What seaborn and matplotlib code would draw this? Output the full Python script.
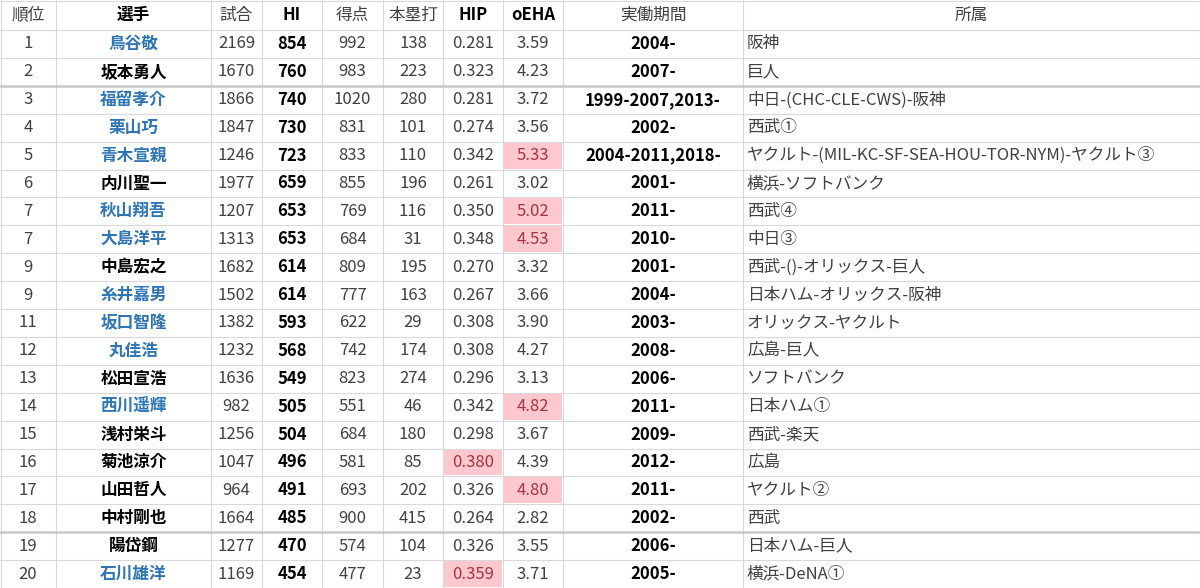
import matplotlib
matplotlib.use("Agg")
import matplotlib.pyplot as plt
import seaborn as sns
from matplotlib.patches import Rectangle

sns.set_theme(style="white")
plt.rcParams["font.family"] = "Noto Sans CJK JP"

headers = ["順位", "選手", "試合", "HI", "得点", "本塁打", "HIP", "oEHA", "実働期間", "所属"]
header_bold = [False, True, False, True, False, False, True, True, False, False]
ranks = [1, 2, 3, 4, 5, 6, 7, 7, 9, 9, 11, 12, 13, 14, 15, 16, 17, 18, 19, 20]
players = ["鳥谷敬", "坂本勇人", "福留孝介", "栗山巧", "青木宣親", "内川聖一", "秋山翔吾", "大島洋平",
           "中島宏之", "糸井嘉男", "坂口智隆", "丸佳浩", "松田宣浩", "西川遥輝", "浅村栄斗", "菊池涼介",
           "山田哲人", "中村剛也", "陽岱鋼", "石川雄洋"]
lefty = [1, 0, 1, 1, 1, 0, 1, 1, 0, 1, 1, 1, 0, 1, 0, 0, 0, 0, 0, 1]
games = [2169, 1670, 1866, 1847, 1246, 1977, 1207, 1313, 1682, 1502, 1382, 1232, 1636, 982, 1256, 1047, 964, 1664, 1277, 1169]
hi = [854, 760, 740, 730, 723, 659, 653, 653, 614, 614, 593, 568, 549, 505, 504, 496, 491, 485, 470, 454]
runs = [992, 983, 1020, 831, 833, 855, 769, 684, 809, 777, 622, 742, 823, 551, 684, 581, 693, 900, 574, 477]
hr = [138, 223, 280, 101, 110, 196, 116, 31, 195, 163, 29, 174, 274, 46, 180, 85, 202, 415, 104, 23]
hip = ["0.281", "0.323", "0.281", "0.274", "0.342", "0.261", "0.350", "0.348", "0.270", "0.267",
       "0.308", "0.308", "0.296", "0.342", "0.298", "0.380", "0.326", "0.264", "0.326", "0.359"]
oeha = ["3.59", "4.23", "3.72", "3.56", "5.33", "3.02", "5.02", "4.53", "3.32", "3.66",
        "3.90", "4.27", "3.13", "4.82", "3.67", "4.39", "4.80", "2.82", "3.55", "3.71"]
years = ["2004-", "2007-", "1999-2007,2013-", "2002-", "2004-2011,2018-", "2001-", "2011-", "2010-",
         "2001-", "2004-", "2003-", "2008-", "2006-", "2011-", "2009-", "2012-", "2011-", "2002-", "2006-", "2005-"]
teams = ["阪神", "巨人", "中日-(CHC-CLE-CWS)-阪神", "西武①", "ヤクルト-(MIL-KC-SF-SEA-HOU-TOR-NYM)-ヤクルト③",
         "横浜-ソフトバンク", "西武④", "中日③", "西武-()-オリックス-巨人", "日本ハム-オリックス-阪神",
         "オリックス-ヤクルト", "広島-巨人", "ソフトバンク", "日本ハム①", "西武-楽天", "広島", "ヤクルト②",
         "西武", "日本ハム-巨人", "横浜-DeNA①"]
hip_hl = [s in ("0.380", "0.359") for s in hip]
oeha_hl = [float(s) >= 4.5 for s in oeha]

edges = [0, 56, 211, 262, 322, 383, 443, 503, 563, 743, 1200]
head_h = 30
row_h = (588 - head_h) / 20

fig = plt.figure(figsize=(12, 5.88), dpi=100)
ax = fig.add_axes([0, 0, 1, 1])
ax.set_xlim(0, 1200)
ax.set_ylim(588, 0)
ax.axis("off")

pink_bg = "#FFC7CE"
pink_fg = "#A8343F"
gray = "#404040"
blue = "#2E75B6"

for e in edges[1:-1]:
    ax.plot([e, e], [0, 588], color="#d9d9d9", lw=0.8)
ax.plot([0.5, 0.5], [0, 588], color="#d9d9d9", lw=0.8)
ax.plot([1199.5, 1199.5], [0, 588], color="#d9d9d9", lw=0.8)
for r in range(21):
    y = head_h + r * row_h
    thick = r in (2, 18)
    ax.plot([0, 1200], [y, y], color="#c8c8c8" if thick else "#d9d9d9", lw=1.8 if thick else 0.8)
ax.plot([0, 1200], [0.5, 0.5], color="#d9d9d9", lw=0.8)

def cx(c):
    return (edges[c] + edges[c + 1]) / 2

fs = 12
for c, h in enumerate(headers):
    ax.text(cx(c), head_h / 2, h, ha="center", va="center", fontsize=fs,
            fontweight="bold" if header_bold[c] else "normal",
            color="black" if header_bold[c] else gray)

for i in range(20):
    y = head_h + (i + 0.5) * row_h
    if hip_hl[i]:
        ax.add_patch(Rectangle((edges[6] + 1, head_h + i * row_h + 1), edges[7] - edges[6] - 2, row_h - 2, color=pink_bg, lw=0))
    if oeha_hl[i]:
        ax.add_patch(Rectangle((edges[7] + 1, head_h + i * row_h + 1), edges[8] - edges[7] - 2, row_h - 2, color=pink_bg, lw=0))
    ax.text(cx(0), y, str(ranks[i]), ha="center", va="center", fontsize=fs, color=gray)
    ax.text(cx(1), y, players[i], ha="center", va="center", fontsize=fs, fontweight="bold",
            color=blue if lefty[i] else "black")
    ax.text(cx(2), y, str(games[i]), ha="center", va="center", fontsize=fs, color=gray)
    ax.text(cx(3), y, str(hi[i]), ha="center", va="center", fontsize=fs, fontweight="bold", color="black")
    ax.text(cx(4), y, str(runs[i]), ha="center", va="center", fontsize=fs, color=gray)
    ax.text(cx(5), y, str(hr[i]), ha="center", va="center", fontsize=fs, color=gray)
    ax.text(cx(6), y, hip[i], ha="center", va="center", fontsize=fs, color=pink_fg if hip_hl[i] else gray)
    ax.text(cx(7), y, oeha[i], ha="center", va="center", fontsize=fs, color=pink_fg if oeha_hl[i] else gray)
    ax.text(cx(8), y, years[i], ha="center", va="center", fontsize=fs, fontweight="bold", color="black")
    ax.text(edges[9] + 4, y, teams[i], ha="left", va="center", fontsize=fs, color=gray)

fig.savefig("out.png", dpi=100, facecolor="white")
